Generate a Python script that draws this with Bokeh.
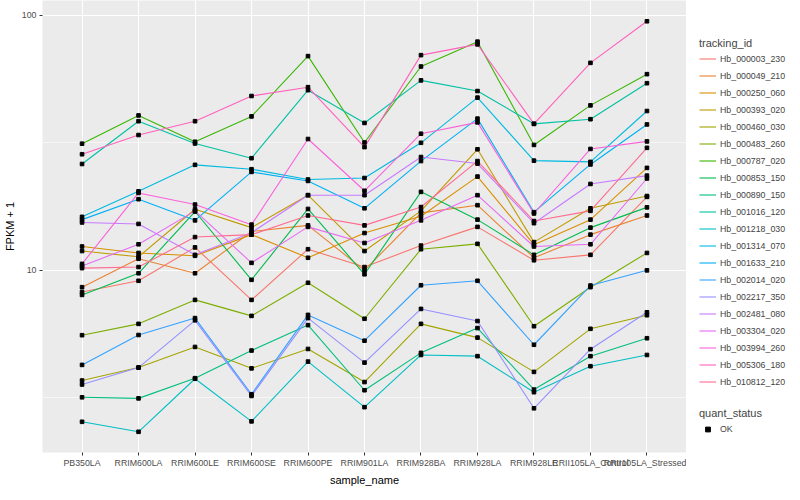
from bokeh.plotting import figure
from bokeh.layouts import row
from bokeh.models import FactorRange, Range1d, FixedTicker, Legend, LegendItem, BasicTickFormatter
from bokeh.embed import file_html
from bokeh.resources import INLINE

samples = ["PB350LA", "RRIM600LA", "RRIM600LE", "RRIM600SE", "RRIM600PE", "RRIM901LA",
           "RRIM928BA", "RRIM928LA", "RRIM928LE", "RRII105LA_Control", "RRII105LA_Stressed"]

tracking_ids = ["Hb_000003_230", "Hb_000049_210", "Hb_000250_060", "Hb_000393_020", "Hb_000460_030",
                "Hb_000483_260", "Hb_000787_020", "Hb_000853_150", "Hb_000890_150", "Hb_001016_120",
                "Hb_001218_030", "Hb_001314_070", "Hb_001633_210", "Hb_002014_020", "Hb_002217_350",
                "Hb_002481_080", "Hb_003304_020", "Hb_003994_260", "Hb_005306_180", "Hb_010812_120"]

colors = ["#F8766D", "#EA8331", "#D89000", "#C09B00", "#A3A500", "#7CAE00", "#39B600", "#00BB4E",
          "#00BF7D", "#00C1A3", "#00BFC4", "#00BAE0", "#00B0F6", "#35A2FF", "#9590FF", "#C77CFF",
          "#E76BF3", "#FA62DB", "#FF62BC", "#FF6C91"]

quant_status = ["OK"]

# FPKM + 1 per sample
hb_000003_230 = [8.22, 9.10, 12.3, 7.66, 12.1, 10.3, 12.5, 14.8, 10.95, 11.5, 19.4]
hb_000049_210 = [8.59, 11.1, 9.74, 14.2, 15.0, 10.0, 16.8, 18.0, 11.2, 13.8, 16.4]
hb_000250_060 = [12.4, 11.7, 11.4, 13.8, 11.2, 14.0, 16.3, 23.3, 12.6, 15.8, 25.2]
hb_000393_020 = [11.9, 11.3, 17.35, 14.7, 19.7, 11.9, 17.1, 29.8, 12.9, 17.5, 19.55]
hb_000460_030 = [3.70, 4.16, 5.01, 4.13, 4.92, 3.65, 6.17, 5.45, 4.00, 5.90, 6.67]
hb_000483_260 = [5.57, 6.17, 7.66, 6.63, 8.94, 6.46, 12.1, 12.7, 6.04, 8.59, 11.7]
hb_000787_020 = [31.35, 40.45, 31.9, 40.1, 69.1, 31.7, 62.9, 78.7, 31.0, 44.3, 58.7]
hb_000853_150 = [8.01, 9.74, 17.0, 9.18, 17.4, 9.65, 20.3, 15.8, 11.5, 14.7, 17.65]
hb_000890_150 = [3.18, 3.15, 3.78, 4.85, 6.10, 3.39, 4.75, 5.94, 3.41, 4.61, 5.42]
hb_001016_120 = [26.1, 38.4, 31.4, 27.5, 50.8, 37.8, 55.5, 50.4, 37.5, 39.1, 54.1]
hb_001218_030 = [2.55, 2.33, 3.76, 2.56, 4.39, 2.91, 4.66, 4.61, 3.33, 4.21, 4.66]
hb_001314_070 = [16.2, 20.4, 25.9, 24.9, 22.7, 23.0, 31.6, 47.5, 26.9, 26.6, 42.1]
hb_001633_210 = [15.8, 19.0, 15.7, 24.3, 22.4, 17.5, 26.8, 39.3, 16.9, 26.0, 37.3]
hb_002014_020 = [4.26, 5.58, 6.50, 3.27, 6.69, 5.30, 8.74, 9.10, 5.11, 8.72, 10.0]
hb_002217_350 = [3.57, 4.16, 6.37, 3.22, 6.50, 4.35, 7.06, 6.33, 2.88, 4.91, 6.85]
hb_002481_080 = [15.4, 15.2, 11.5, 14.05, 19.7, 19.7, 27.8, 26.2, 15.3, 21.8, 23.5]
hb_003304_020 = [10.4, 12.65, 17.1, 10.7, 14.8, 12.8, 15.7, 19.7, 12.4, 12.65, 22.9]
hb_003994_260 = [10.6, 20.1, 18.1, 15.1, 32.7, 20.5, 34.3, 38.0, 16.7, 29.9, 32.0]
hb_005306_180 = [28.5, 33.9, 38.4, 48.2, 52.2, 30.4, 69.7, 76.8, 37.5, 65.0, 94.6]
hb_010812_120 = [10.2, 10.3, 13.5, 13.8, 16.4, 15.0, 17.7, 26.8, 15.6, 17.1, 30.2]

series = [hb_000003_230, hb_000049_210, hb_000250_060, hb_000393_020, hb_000460_030,
          hb_000483_260, hb_000787_020, hb_000853_150, hb_000890_150, hb_001016_120,
          hb_001218_030, hb_001314_070, hb_001633_210, hb_002014_020, hb_002217_350,
          hb_002481_080, hb_003304_020, hb_003994_260, hb_005306_180, hb_010812_120]

FONT = "Liberation Sans"
FH = 452
TOTAL_H = 484

p = figure(x_range=FactorRange(factors=samples, range_padding=0.2, range_padding_units="absolute"),
           y_range=Range1d(1.933, 114.1), y_axis_type="log",
           frame_width=644, frame_height=FH,
           min_border_left=30, min_border_right=0, min_border_top=0, min_border_bottom=0,
           output_backend="svg", toolbar_location=None)

p.background_fill_color = "#EBEBEB"
p.border_fill_color = "white"
p.outline_line_color = None

p.xgrid.grid_line_color = "white"
p.xgrid.grid_line_width = 1.1
p.ygrid.grid_line_color = "white"
p.ygrid.grid_line_width = 1.1
p.ygrid.minor_grid_line_color = "white"
p.ygrid.minor_grid_line_width = 0.55

p.yaxis.ticker = FixedTicker(ticks=[10, 100], minor_ticks=[3.1623, 31.623])
p.yaxis.formatter = BasicTickFormatter()

for ax in (p.xaxis[0], p.yaxis[0]):
    ax.axis_line_color = None
    ax.major_tick_line_color = "#333333"
    ax.major_tick_out = 3
    ax.major_tick_in = 0
    ax.minor_tick_line_color = None
    ax.major_label_text_font = FONT
    ax.major_label_text_font_size = "8.8px"
    ax.major_label_text_color = "#4D4D4D"
    ax.major_label_standoff = 2
    ax.axis_label_text_font = FONT
    ax.axis_label_text_font_size = "11px"
    ax.axis_label_text_font_style = "normal"
    ax.axis_label_text_color = "black"
    ax.axis_label_standoff = 3

p.xaxis.axis_label = "sample_name"
p.yaxis.axis_label = "FPKM + 1"

for col, vals in zip(colors, series):
    p.line(x=samples, y=vals, line_color=col, line_width=1.1)

all_x = [s for vals in series for s in samples]
all_y = [v for vals in series for v in vals]
p.scatter(x=all_x, y=all_y, marker="square", size=3.6, color="black")

# legend panel: same series drawn on a range that keeps them out of view, only keys show
lg = figure(frame_width=100, frame_height=TOTAL_H,
            x_range=FactorRange(factors=samples), y_range=Range1d(1000, 2000),
            min_border=0, x_axis_location=None, y_axis_location=None,
            output_backend="svg", toolbar_location=None)
lg.grid.visible = False
lg.outline_line_color = None
lg.background_fill_color = "white"
lg.border_fill_color = "white"

items = []
for tid, col, vals in zip(tracking_ids, colors, series):
    r = lg.line(x=samples, y=vals, line_color=col, line_width=1.1)
    items.append(LegendItem(label=tid, renderers=[r]))
ok_r = lg.scatter(x=all_x, y=all_y, marker="square", size=3.6, color="black")
ok_items = [LegendItem(label=q, renderers=[ok_r]) for q in quant_status]

def style(leg, gh=17):
    leg.background_fill_alpha = 0
    leg.border_line_color = None
    leg.padding = 0
    leg.margin = 0
    leg.spacing = 0
    leg.glyph_height = gh
    leg.glyph_width = 17
    leg.label_height = 17
    leg.label_standoff = 4
    leg.label_text_font = FONT
    leg.label_text_font_size = "8.8px"
    leg.label_text_baseline = "middle"
    leg.title_text_font = FONT
    leg.title_text_font_size = "11px"
    leg.title_text_font_style = "normal"
    leg.title_standoff = 1

leg1 = Legend(items=items, title="tracking_id", location=(13, TOTAL_H - 36 - 354))
style(leg1)
lg.add_layout(leg1, "center")

leg2 = Legend(items=ok_items, title="quant_status", location=(13, TOTAL_H - 406 - 31))
style(leg2, gh=12)
lg.add_layout(leg2, "center")

layout = row(p, lg)
open("out.html", "w").write(file_html(layout, INLINE))
